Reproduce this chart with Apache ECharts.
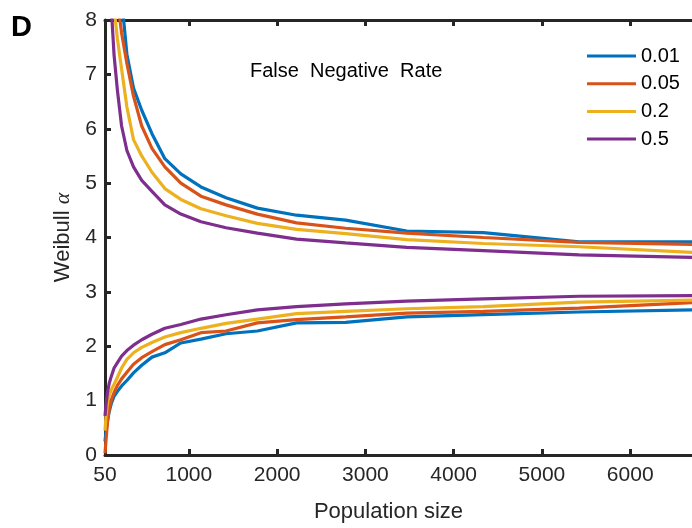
<!DOCTYPE html>
<html>
<head>
<meta charset="utf-8">
<script src="https://cdn.jsdelivr.net/npm/echarts@6/dist/echarts.min.js"></script>
<style>
html,body{margin:0;padding:0;background:#fff;}
#chart{width:692px;height:528px;}
</style>
</head>
<body>
<div id="chart"></div>
<script>
// Population sizes (x) - geometric grid
const popSize = [50, 63, 78, 98, 122, 153, 191, 238, 298, 373, 466, 582, 728, 909, 1137, 1421, 1776, 2220, 2776, 3469, 4337, 5421, 6776];

// Upper branch (decreasing) per false negative rate
const upper001 = [26, 22, 19, 16, 13.5, 11.5, 9.8, 8.4, 7.37, 6.75, 6.34, 5.91, 5.45, 5.17, 4.93, 4.73, 4.54, 4.41, 4.32, 4.12, 4.09, 3.92, 3.92];
const upper005 = [22, 19, 16.5, 14, 12, 10, 8.35, 7.76, 7.2, 6.6, 6.05, 5.64, 5.30, 5.0, 4.76, 4.6, 4.43, 4.27, 4.17, 4.08, 4.0, 3.91, 3.87];
const upper02  = [17, 15, 13, 11, 9.5, 8.2, 7.65, 7.1, 6.4, 5.8, 5.5, 5.2, 4.9, 4.7, 4.53, 4.4, 4.26, 4.15, 4.07, 3.96, 3.89, 3.83, 3.72];
const upper05  = [14, 12.5, 11, 9.5, 8.2, 7.35, 6.7, 6.05, 5.6, 5.3, 5.05, 4.85, 4.6, 4.43, 4.29, 4.18, 4.08, 3.97, 3.90, 3.82, 3.76, 3.68, 3.63];

// Lower branch (increasing)
const lower001 = [0.25, 0.45, 0.62, 0.8, 0.95, 1.08, 1.17, 1.27, 1.37, 1.51, 1.65, 1.80, 1.88, 2.06, 2.13, 2.23, 2.28, 2.43, 2.44, 2.54, 2.58, 2.63, 2.67];
const lower005 = [0.03, 0.3, 0.6, 0.85, 1.02, 1.15, 1.28, 1.4, 1.52, 1.67, 1.79, 1.9, 2.03, 2.12, 2.25, 2.28, 2.43, 2.49, 2.54, 2.61, 2.64, 2.70, 2.81];
const lower02  = [0.45, 0.75, 0.95, 1.1, 1.2, 1.3, 1.43, 1.6, 1.76, 1.88, 1.98, 2.07, 2.17, 2.25, 2.33, 2.42, 2.50, 2.6, 2.64, 2.69, 2.73, 2.81, 2.85];
const lower05  = [0.72, 0.95, 1.15, 1.32, 1.45, 1.6, 1.7, 1.82, 1.92, 2.02, 2.12, 2.22, 2.33, 2.4, 2.5, 2.58, 2.67, 2.73, 2.78, 2.83, 2.87, 2.92, 2.93];

const rateNames = ['0.01', '0.05', '0.2', '0.5'];
const rateColors = ['#0072BD', '#D95319', '#EDB120', '#7E2F8E'];
const xTickValues = [50, 1000, 2000, 3000, 4000, 5000, 6000];

const upperSets = [upper001, upper005, upper02, upper05];
const lowerSets = [lower001, lower005, lower02, lower05];

const toPairs = arr => popSize.map((x, i) => [x, arr[i]]);

const series = [];
for (let k = 0; k < 4; k++) {
  [upperSets[k], lowerSets[k]].forEach(arr => {
    series.push({
      name: rateNames[k],
      type: 'line',
      xAxisIndex: 0,
      yAxisIndex: 0,
      data: toPairs(arr),
      showSymbol: false,
      symbol: 'none',
      clip: true,
      lineStyle: { color: rateColors[k], width: 3.2 },
      itemStyle: { color: rateColors[k] },
      emphasis: { disabled: true },
      animation: false
    });
  });
}

const axisColor = '#262626';
const font = 'Liberation Sans, Arial, sans-serif';

const chart = echarts.init(document.getElementById('chart'));
chart.setOption({
  animation: false,
  grid: { left: 105, right: 0, top: 20, bottom: 72 },
  legend: {
    data: rateNames,
    orient: 'vertical',
    left: 582,
    top: 41,
    icon: 'rect',
    itemWidth: 49,
    itemHeight: 3,
    itemGap: 7.7,
    textStyle: { fontSize: 20, fontFamily: font, color: '#000', lineHeight: 20 }
  },
  xAxis: [
    {
      type: 'value',
      min: 50,
      max: 6700,
      position: 'bottom',
      splitLine: { show: false },
      axisLine: { show: true, onZero: false, lineStyle: { color: axisColor, width: 3 } },
      axisTick: { show: true, inside: true, length: 6, customValues: xTickValues, lineStyle: { color: axisColor, width: 3 } },
      axisLabel: { customValues: xTickValues, formatter: v => String(v), fontSize: 21, fontFamily: font, color: axisColor, margin: 10 },
      name: 'Population size',
      nameLocation: 'middle',
      nameGap: 46,
      nameTextStyle: { fontSize: 22, fontFamily: font, color: axisColor, padding: [0, 20, 0, 0] }
    },
    {
      type: 'value',
      min: 50,
      max: 6700,
      position: 'top',
      splitLine: { show: false },
      axisLine: { show: true, onZero: false, lineStyle: { color: axisColor, width: 3 } },
      axisTick: { show: true, inside: true, length: 6, customValues: xTickValues, lineStyle: { color: axisColor, width: 3 } },
      axisLabel: { show: false }
    }
  ],
  yAxis: {
    type: 'value',
    min: 0,
    max: 8,
    interval: 1,
    splitLine: { show: false },
    axisLine: { show: true, onZero: false, lineStyle: { color: axisColor, width: 3 } },
    axisTick: { show: true, inside: true, length: 6, lineStyle: { color: axisColor, width: 3 } },
    axisLabel: { fontSize: 21, fontFamily: font, color: axisColor, margin: 8 },
    name: '{n|Weibull }{a|α}',
    nameLocation: 'middle',
    nameGap: 23,
    nameTextStyle: {
      color: axisColor,
      rich: {
        n: { fontSize: 22, fontFamily: font, color: axisColor },
        a: { fontSize: 22, fontFamily: 'Liberation Serif, serif', fontStyle: 'italic', color: axisColor }
      }
    }
  },
  graphic: [
    {
      type: 'text',
      left: 11,
      top: 13,
      style: { text: 'D', font: 'bold 29px ' + font, fill: '#000' }
    },
    {
      type: 'text',
      left: 250,
      top: 61,
      style: { text: 'False  Negative  Rate', font: '20px ' + font, fill: '#000' }
    }
  ],
  series: series
});
</script>
</body>
</html>
